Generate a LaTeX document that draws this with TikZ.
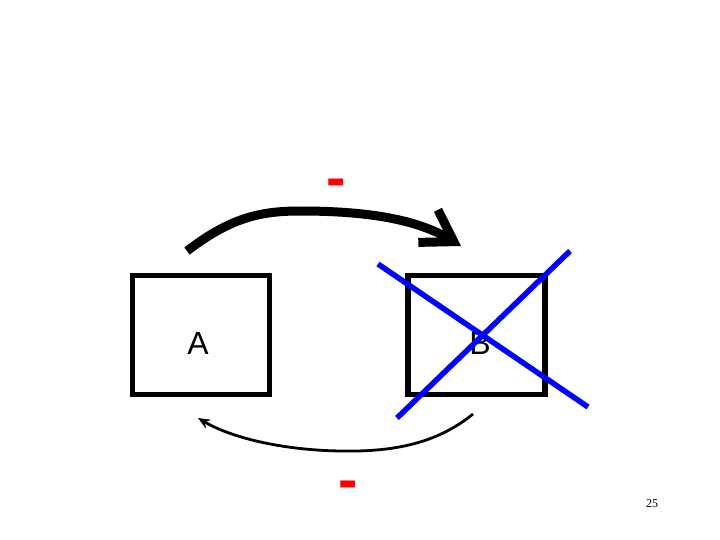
\documentclass[tikz,border=0pt]{standalone}
\usepackage{fontspec}
\setmainfont{Liberation Sans}
\newfontfamily\numfont{Liberation Serif}
\usetikzlibrary{arrows.meta}
\begin{document}
\begin{tikzpicture}[x=1pt,y=-1pt,
  boxshape/.style={draw=black,line width=5.5pt,minimum width=137pt,minimum height=119pt,inner sep=0pt},
  boxlabel/.style={font=\fontsize{32}{36}\selectfont,inner sep=0pt},
  minuslabel/.style={text=red,font=\fontsize{58}{60}\selectfont\bfseries,inner sep=0pt,anchor=base},
  cross/.style={draw=blue,line width=5.5pt},
  bigarrow/.style={draw=black,line width=9pt,-{Straight Barb[length=30pt,width=38pt,line join=miter]}},
  smallarrow/.style={draw=black,line width=2.8pt,-{Stealth[length=12pt,width=10pt]}}]
\useasboundingbox (0,0) rectangle (720,540);
\node[boxshape] (boxA) at (201,335) {};
\node[boxshape] (boxB) at (476.5,335) {};
\node[boxlabel] (textA) at (198,343) {A};
\node[boxlabel] (textB) at (480,343) {B};
\coordinate (c1s) at (378,264);
\coordinate (c1e) at (588,407);
\coordinate (c2s) at (570,251);
\coordinate (c2e) at (397,418);
\draw[cross] (c1s) -- (c1e);
\draw[cross] (c2s) -- (c2e);
\coordinate (tS) at (187,251);
\coordinate (tM) at (300,211);
\coordinate (tE) at (461,246);
\draw[bigarrow] (tS) .. controls (230,218) and (260,211) .. (tM) .. controls (370,211) and (418,220) .. (tE);
\coordinate (bS) at (473,414);
\coordinate (bM) at (340,451);
\coordinate (bE) at (198,418);
\draw[smallarrow] (bS) .. controls (435,445) and (390,452) .. (bM) .. controls (280,450) and (230,437) .. (bE);
\node[minuslabel] (mtop) at (336,198) {-};
\node[minuslabel] (mbot) at (348,499) {-};
\node[font=\numfont\fontsize{12}{14}\selectfont,inner sep=0pt] (page) at (652,504) {25};
\end{tikzpicture}
\end{document}
